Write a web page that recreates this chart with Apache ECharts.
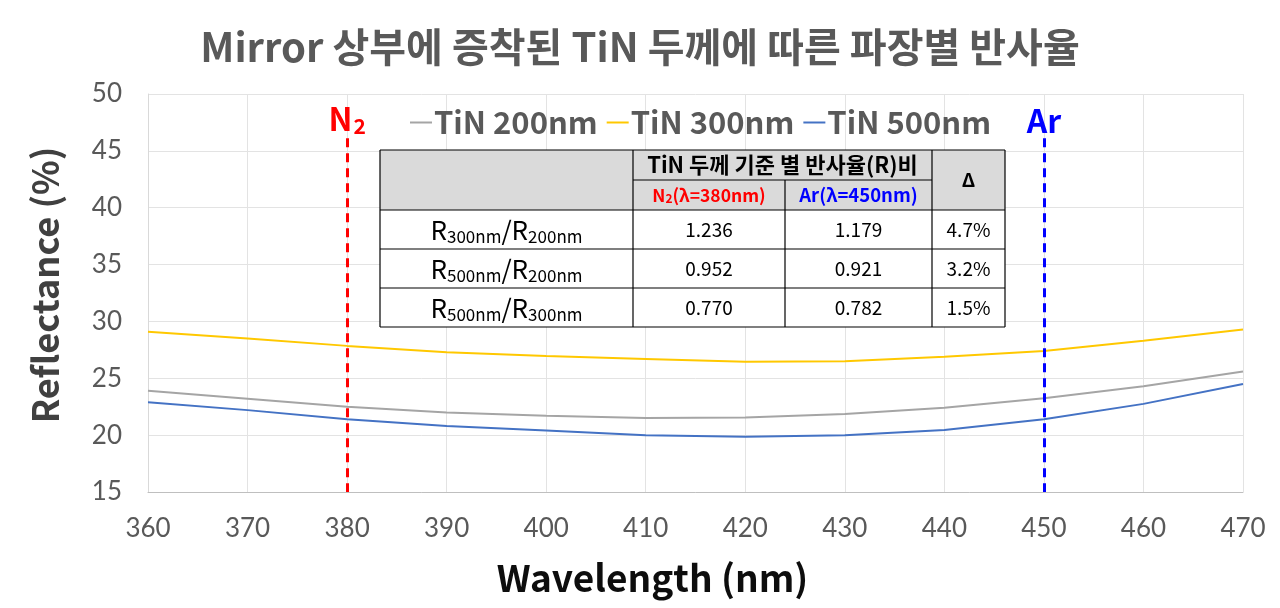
<!DOCTYPE html>
<html><head><meta charset="utf-8">
<script src="https://cdn.jsdelivr.net/npm/echarts@6/dist/echarts.min.js"></script>
<style>html,body{margin:0;padding:0;background:#fff}#c{width:1280px;height:608px}</style>
</head><body><div id="c"></div>
<script>
const wavelengths = [360,370,380,390,400,410,420,430,440,450,460,470];
const tin200 = [23.9,23.2,22.5,22.0,21.7,21.5,21.55,21.85,22.4,23.25,24.3,25.6];
const tin300 = [29.1,28.5,27.85,27.3,26.95,26.7,26.45,26.5,26.9,27.4,28.3,29.3];
const tin500 = [22.9,22.2,21.4,20.8,20.4,20.0,19.85,20.0,20.45,21.4,22.75,24.5];
const seriesNames = ['TiN 200nm','TiN 300nm','TiN 500nm'];
const ratioLabels = [['300nm','200nm'],['500nm','200nm'],['500nm','300nm']];
const ratioN2 = ['1.236','0.952','0.770'];
const ratioAr = ['1.179','0.921','0.782'];
const ratioDelta = ['4.7%','3.2%','1.5%'];
const xTicks = {min:360,max:470,interval:10};
const yTicks = {min:15,max:50,interval:5};

const KR = '"Noto Sans CJK KR", sans-serif';
const NUM = 'Lato, sans-serif';
const chart = echarts.init(document.getElementById('c'));

function pairs(ys){return wavelengths.map((x,i)=>[x,ys[i]]);}

// table graphic
const tx = 380, ty = 150;
const cw = [253,152,147,73];
const rh = [30,30,39,39,39];
const cx = [tx]; cw.forEach((w,i)=>cx.push(cx[i]+w));
const ry = [ty]; rh.forEach((h,i)=>ry.push(ry[i]+h));
const els = [];
const line = (x1,y1,x2,y2)=>els.push({type:'line',shape:{x1,y1,x2,y2},style:{stroke:'#000',lineWidth:1.2},z:101});
els.push({type:'rect',shape:{x:cx[0],y:ry[0],width:cx[4]-cx[0],height:ry[5]-ry[0]},style:{fill:'#fff'},z:99});
els.push({type:'rect',shape:{x:cx[0],y:ry[0],width:cx[4]-cx[0],height:ry[2]-ry[0]},style:{fill:'#DADADA'},z:100});
line(cx[0],ry[0],cx[4],ry[0]);
line(cx[1],ry[1],cx[3],ry[1]);
for(let r=2;r<=5;r++) line(cx[0],ry[r],cx[4],ry[r]);
line(cx[0],ry[0],cx[0],ry[5]);
line(cx[1],ry[0],cx[1],ry[5]);
line(cx[2],ry[1],cx[2],ry[5]);
line(cx[3],ry[0],cx[3],ry[5]);
line(cx[4],ry[0],cx[4],ry[5]);
const txt = (x,y,style)=>els.push({type:'text',x,y,style:Object.assign({align:'center',verticalAlign:'middle'},style),z:102});
txt((cx[1]+cx[3])/2,(ry[0]+ry[1])/2,{text:'TiN 두께 기준 별 반사율(R)비',font:'bold 22px '+KR,fill:'#000'});
txt((cx[1]+cx[2])/2,(ry[1]+ry[2])/2,{text:'{n|N}{s|2}{n|(λ=380nm)}',rich:{n:{font:'bold 17.5px '+KR,fill:'#FF0000'},s:{font:'bold 12px '+KR,fill:'#FF0000',padding:[6,0,0,0]}}});
txt((cx[2]+cx[3])/2,(ry[1]+ry[2])/2,{text:'Ar(λ=450nm)',font:'bold 18.5px '+KR,fill:'#0000FF'});
txt((cx[3]+cx[4])/2,(ry[0]+ry[2])/2,{text:'Δ',font:'bold 19px '+KR,fill:'#000'});
ratioLabels.forEach((p,i)=>{
  const yc=(ry[i+2]+ry[i+3])/2;
  txt((cx[0]+cx[1])/2,yc+1,{text:'{r|R}{s|'+p[0]+'}{r|/R}{s|'+p[1]+'}',rich:{r:{font:'26px '+KR,fill:'#000'},s:{font:'17px '+KR,fill:'#000',padding:[13,0,0,0]}}});
  txt((cx[1]+cx[2])/2,yc,{text:ratioN2[i],font:'19px '+KR,fill:'#000'});
  txt((cx[2]+cx[3])/2,yc,{text:ratioAr[i],font:'19px '+KR,fill:'#000'});
  txt((cx[3]+cx[4])/2,yc,{text:ratioDelta[i],font:'19px '+KR,fill:'#000'});
});

const colors = ['#A5A5A5','#FFC800','#4472C4'];
const mk = (x,color,label)=>({
  silent:true, symbol:['none','none'],
  lineStyle:{color:color,width:3,type:[9,6]},
  label:{show:true,position:'start',distance:2,formatter:label.text,rich:label.rich},
  data:[[{coord:[x,46.1]},{coord:[x,15]}]]
});

chart.setOption({
  animation:false,
  color:colors,
  title:{text:'Mirror 상부에 증착된 TiN 두께에 따른 파장별 반사율',left:'center',top:22,
    textStyle:{fontFamily:KR,fontSize:40,fontWeight:'bold',color:'#595959'}},
  legend:{left:405,top:102,itemWidth:22,itemHeight:2,icon:'rect',itemGap:9,
    textStyle:{fontFamily:KR,fontSize:31,fontWeight:'bold',color:'#595959',padding:[0,0,0,-3]},data:seriesNames},
  grid:{left:148,right:37,top:94,bottom:116,outerBoundsMode:'none'},
  xAxis:{type:'value',min:xTicks.min,max:xTicks.max,interval:xTicks.interval,
    axisLine:{lineStyle:{color:'#BFBFBF'}},axisTick:{show:false},
    axisLabel:{fontFamily:NUM,fontSize:26,color:'#595959',margin:24},
    splitLine:{lineStyle:{color:'#E3E3E3'}},
    name:'Wavelength (nm)',nameLocation:'middle',nameGap:67,
    nameTextStyle:{fontFamily:KR,fontSize:37,fontWeight:'bold',color:'#0D0D0D',padding:[0,86,0,0]}},
  yAxis:{type:'value',min:yTicks.min,max:yTicks.max,interval:yTicks.interval,
    axisLine:{show:true,lineStyle:{color:'#D9D9D9'}},axisTick:{show:false},
    axisLabel:{fontFamily:NUM,fontSize:26,color:'#595959',margin:26},
    splitLine:{lineStyle:{color:'#E3E3E3'}},
    name:'Reflectance (%)',nameLocation:'middle',nameGap:85,nameRotate:90,
    nameTextStyle:{fontFamily:KR,fontSize:36,fontWeight:'bold',color:'#404040',padding:[0,0,0,16]}},
  series:[
    {name:seriesNames[0],type:'line',data:pairs(tin200),showSymbol:false,lineStyle:{width:2},
     markLine:mk(380,'#FF0000',{text:'{n|N}{s|2}',rich:{n:{fontFamily:KR,fontSize:32,fontWeight:'bold',color:'#FF0000'},s:{fontFamily:KR,fontSize:21,fontWeight:'bold',color:'#FF0000',padding:[14,0,0,1]}}})},
    {name:seriesNames[1],type:'line',data:pairs(tin300),showSymbol:false,lineStyle:{width:2},
     markLine:mk(450,'#0000FF',{text:'{n|Ar}',rich:{n:{fontFamily:KR,fontSize:32,fontWeight:'bold',color:'#0000FF'}}})},
    {name:seriesNames[2],type:'line',data:pairs(tin500),showSymbol:false,lineStyle:{width:2}}
  ],
  graphic:els
});
</script></body></html>
